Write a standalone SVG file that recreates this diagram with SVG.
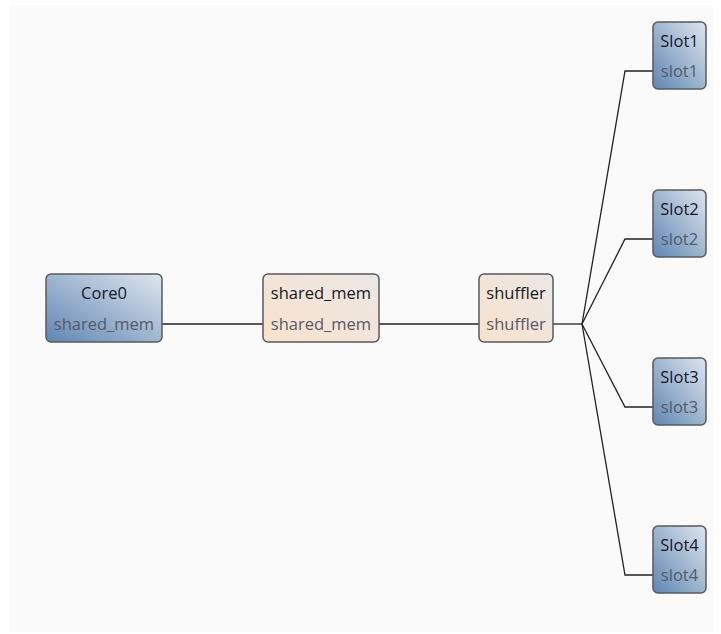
<svg xmlns="http://www.w3.org/2000/svg" width="721" height="634" viewBox="0 0 721 634">
<defs>
<linearGradient id="blue" x1="0" y1="1" x2="1" y2="0">
<stop offset="0" stop-color="#5f86b3"/>
<stop offset="1" stop-color="#dfe6ee"/>
</linearGradient>
<linearGradient id="cream" x1="0" y1="1" x2="1" y2="0">
<stop offset="0" stop-color="#f9e2cc"/>
<stop offset="1" stop-color="#ebe7e4"/>
</linearGradient>
<style>
.box{stroke:#5a5a5a;stroke-width:1.5}
.b{fill:url(#blue)}
.c{fill:url(#cream)}
.t{font-family:"Open Sans","DejaVu Sans",sans-serif;font-size:16.5px;text-anchor:middle;fill:#151826}
.s{font-family:"Open Sans","DejaVu Sans",sans-serif;font-size:16.5px;text-anchor:middle;fill:#555a66}
.e{fill:none;stroke:#222;stroke-width:1.3}
</style>
</defs>
<rect x="0" y="0" width="721" height="634" fill="#ffffff"/>
<rect x="9" y="5" width="704" height="627" fill="#fafafa"/>
<g id="connectors">
<path class="e" d="M162,324H263"/>
<path class="e" d="M379,324H479"/>
<path class="e" d="M553,324H582"/>
<path class="e" d="M582,324L625,71H653"/>
<path class="e" d="M582,324L625,239H653"/>
<path class="e" d="M582,324L625,407H653"/>
<path class="e" d="M582,324L625,575H653"/>
</g>
<g id="Core0">
<rect class="box b" x="46" y="274" width="116" height="68" rx="5"/>
<text class="t" x="104" y="299">Core0</text>
<text class="s" x="104" y="330">shared_mem</text>
</g>
<g id="shared_mem">
<rect class="box c" x="263" y="274" width="116" height="68" rx="5"/>
<text class="t" x="321" y="299">shared_mem</text>
<text class="s" x="321" y="330">shared_mem</text>
</g>
<g id="shuffler">
<rect class="box c" x="479" y="274" width="74" height="68" rx="5"/>
<text class="t" x="516" y="299">shuffler</text>
<text class="s" x="516" y="330">shuffler</text>
</g>
<g id="Slot1">
<rect class="box b" x="653" y="22" width="53" height="67" rx="5"/>
<text class="t" x="679.5" y="47">Slot1</text>
<text class="s" x="679.5" y="77">slot1</text>
</g>
<g id="Slot2">
<rect class="box b" x="653" y="190" width="53" height="67" rx="5"/>
<text class="t" x="679.5" y="215">Slot2</text>
<text class="s" x="679.5" y="245">slot2</text>
</g>
<g id="Slot3">
<rect class="box b" x="653" y="358" width="53" height="67" rx="5"/>
<text class="t" x="679.5" y="383">Slot3</text>
<text class="s" x="679.5" y="413">slot3</text>
</g>
<g id="Slot4">
<rect class="box b" x="653" y="526" width="53" height="67" rx="5"/>
<text class="t" x="679.5" y="551">Slot4</text>
<text class="s" x="679.5" y="581">slot4</text>
</g>
</svg>
